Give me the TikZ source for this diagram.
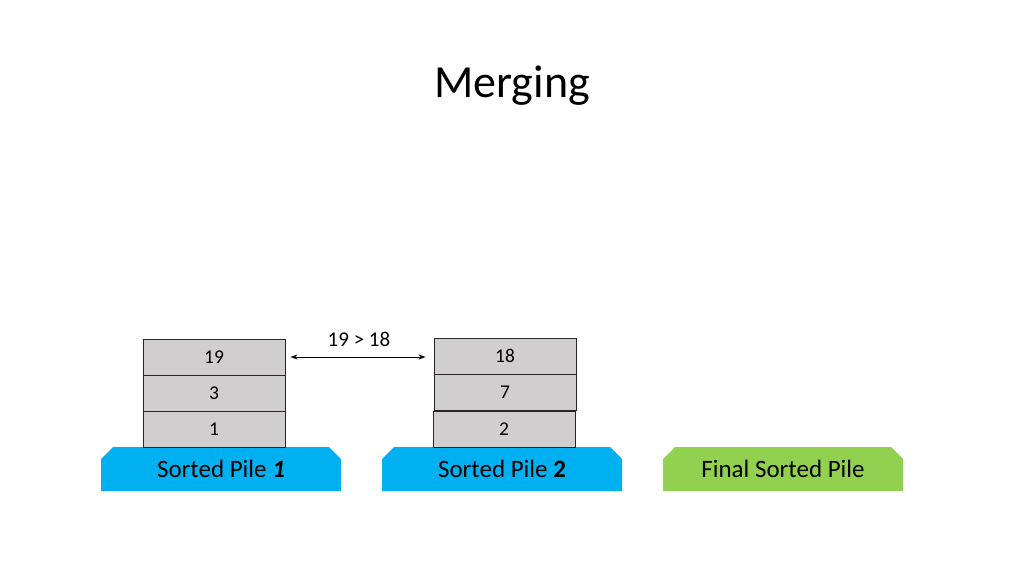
\documentclass[tikz,border=0pt]{standalone}
\usepackage{fontspec}
\setmainfont{Carlito}
\usetikzlibrary{shapes.misc,arrows.meta}
\definecolor{pileblue}{HTML}{00B0F0}
\definecolor{pilegreen}{HTML}{92D050}
\definecolor{cardgray}{HTML}{D0CECE}
\begin{document}
\begin{tikzpicture}[x=1pt,y=-1pt,
  card/.style={draw=black!85,line width=0.9pt,fill=cardgray,minimum width=142pt,minimum height=36pt,inner sep=0pt,font=\fontsize{19.5}{22}\selectfont},
  pilebase/.style={chamfered rectangle,chamfered rectangle corners={north west,north east},chamfered rectangle xsep=6pt,chamfered rectangle ysep=6pt,draw=none,minimum width=240pt,minimum height=44pt,inner sep=0pt,font=\fontsize{25}{28}\selectfont},
  cmp/.style={{Stealth[length=7pt,width=5pt]}-{Stealth[length=7pt,width=5pt]},line width=0.9pt}
]
\useasboundingbox (0,0) rectangle (1024,576);
\node (title) at (512,86) {\fontsize{46}{52}\selectfont Merging};

\node[pilebase,fill=pileblue] (base1) at (221,469) {Sorted Pile \textbf{\textit{1}}};
\node[pilebase,fill=pileblue] (base2) at (502,469) {Sorted Pile \textbf{2}};
\node[pilebase,fill=pilegreen] (base3) at (783,469) {Final Sorted Pile};

\node[card] (a1) at (214,429) {1};
\node[card] (a3) at (214,393) {3};
\node[card] (a19) at (214,357) {19};

\node[card] (b2) at (504,429) {2};
\node[card] (b7) at (505,392) {7};
\node[card] (b18) at (505,356) {18};

\draw[cmp,shorten <=5pt,shorten >=8pt] (a19.east) -- (a19.east -| b18.west) coordinate (arrowend);
\node[font=\fontsize{21}{24}\selectfont] (lbl) at (359,339) {19 > 18};
\end{tikzpicture}
\end{document}
